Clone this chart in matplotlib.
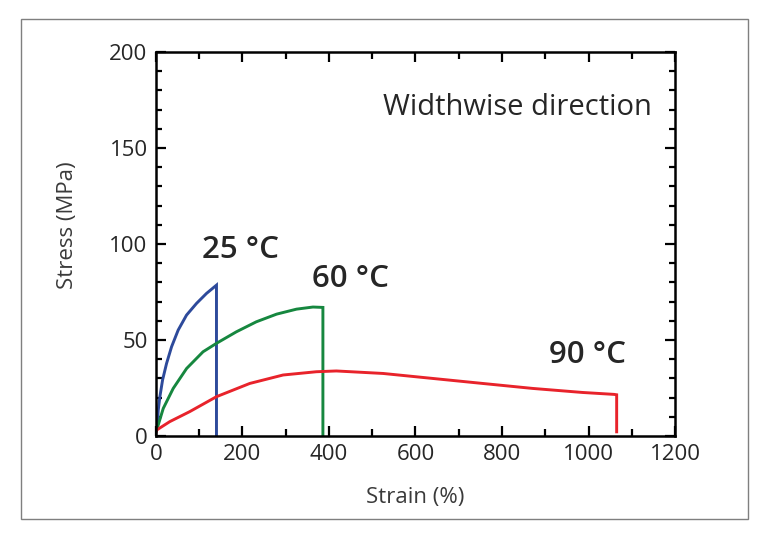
import numpy as np
import matplotlib
matplotlib.use('Agg')
import matplotlib.pyplot as plt
import matplotlib.ticker as ticker
from matplotlib.patches import Rectangle

plt.rcParams['font.family'] = ['Open Sans', 'DejaVu Sans']
plt.rcParams['xtick.direction'] = 'in'
plt.rcParams['ytick.direction'] = 'in'
plt.rcParams['xtick.top'] = True
plt.rcParams['ytick.right'] = True

## Stress-strain curves (strain %, stress MPa)
strain_25 = [0, 3, 5.4, 9.2, 15.4, 24.6, 36.2, 51.5, 70.8, 93.9, 117, 140, 140]
stress_25 = [2, 4.8, 13.5, 20.5, 29.2, 37.8, 46.5, 55.2, 63, 69.1, 74.3, 78.6, 0]

strain_60 = [0, 3, 17, 40, 71, 109, 140, 186, 232, 279, 325, 363, 386, 386]
stress_60 = [2.5, 4, 14.4, 24.8, 35.2, 43.9, 48.3, 54.3, 59.5, 63.5, 66.1, 67.2, 67, 0]

strain_90 = [0, 1.5, 32, 78, 140, 217, 294, 371, 417, 525, 640, 755, 871, 986, 1059, 1065, 1065]
stress_90 = [2, 3.1, 7.5, 12.7, 20.5, 27.4, 31.8, 33.5, 33.9, 32.6, 30, 27.4, 24.8, 22.7, 21.7, 21.5, 2.2]

temps = ['25 °C', '60 °C', '90 °C']

c25 = '#2d4a9b'
c60 = '#16873f'
c90 = '#e8232b'
txt = '#262626'

fig = plt.figure(figsize=(7.68, 5.37), dpi=100)

# grey frame round the whole thing
fig.patches.append(Rectangle((0.027, 0.0335), 0.947, 0.931, transform=fig.transFigure,
                             fill=False, edgecolor='#7f7f7f', linewidth=1.0))

ax = fig.add_axes([0.203, 0.188, 0.676, 0.715])

ax.plot(strain_25, stress_25, color=c25, lw=2.1, solid_joinstyle='miter')
ax.plot(strain_60, stress_60, color=c60, lw=2.1, solid_joinstyle='miter')
ax.plot(strain_90, stress_90, color=c90, lw=2.1, solid_joinstyle='miter')

ax.text(196, 97, temps[0], fontsize=22.5, color=txt, ha='center', va='center', fontweight='semibold')
ax.text(450, 82, temps[1], fontsize=22.5, color=txt, ha='center', va='center', fontweight='semibold')
ax.text(998, 42, temps[2], fontsize=22.5, color=txt, ha='center', va='center', fontweight='semibold')
ax.text(524, 171, 'Widthwise direction', fontsize=21, color=txt, ha='left', va='center')

ax.set_xlim(0, 1200)
ax.set_ylim(0, 200)
ax.xaxis.set_major_locator(ticker.MultipleLocator(200))
ax.xaxis.set_minor_locator(ticker.MultipleLocator(100))
ax.yaxis.set_major_locator(ticker.MultipleLocator(50))
ax.yaxis.set_minor_locator(ticker.MultipleLocator(10))
ax.tick_params(which='major', length=7, width=1.6, labelsize=16, labelcolor=txt, pad=6)
ax.tick_params(which='minor', length=4, width=1.6)
ax.tick_params(axis='x', which='minor', length=5)
for sp in ax.spines.values():
    sp.set_linewidth(1.8)

fig.text(415/768, 1 - 497/537, 'Strain (%)', fontsize=16, color='#3a3a3a', ha='center', va='center')
fig.text(67/768, 1 - 225/537, 'Stress (MPa)', fontsize=16, color='#3a3a3a', ha='center', va='center',
         rotation='vertical')

fig.savefig('out.png', dpi=100)
